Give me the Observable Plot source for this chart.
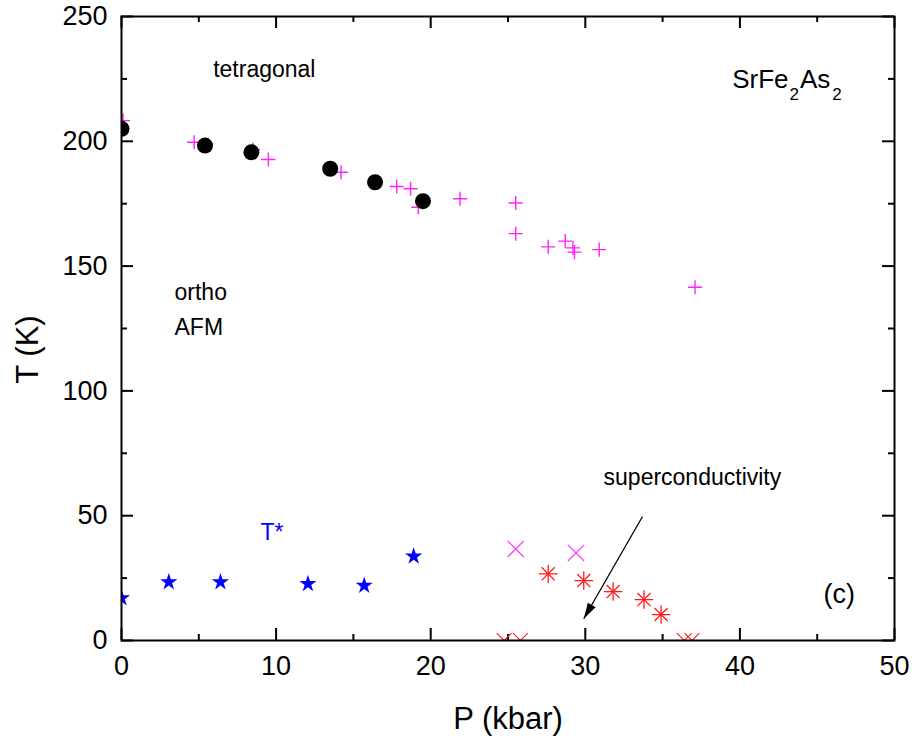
<!DOCTYPE html>
<html>
<head>
<meta charset="utf-8">
<script src="https://cdn.jsdelivr.net/npm/d3@7"></script>
<script src="https://cdn.jsdelivr.net/npm/@observablehq/plot@0.6"></script>
<style>
  html, body { margin: 0; padding: 0; background: white; }
</style>
</head>
<body>
<div id="chart"></div>
<script>
// ---- data ----
const circleP = [0, 5.4, 8.4, 13.5, 16.4, 19.5];
const circleT = [205, 198.3, 195.6, 189, 183.6, 176];

const plusP = [0.1, 4.7, 8.5, 9.5, 14.2, 17.8, 18.7, 19.2, 21.9, 25.5, 25.5, 27.6, 28.7, 29.2, 29.3, 30.9, 37.1];
const plusT = [208.3, 199.6, 196.7, 192.7, 187.6, 181.9, 181.0, 173.6, 177.0, 175.3, 163.0, 157.7, 160.0, 157.3, 155.6, 156.6, 141.5];

const starP = [0, 3.06, 6.4, 12.06, 15.7, 18.9];
const starT = [17, 23.4, 23.4, 22.7, 22.0, 33.7];

const timesP = [25.5, 29.4];
const timesT = [36.7, 35.1];

const asteriskP = [27.6, 29.9, 31.8, 33.8, 34.9];
const asteriskT = [26.7, 24.0, 19.6, 16.4, 10.4];

const zeroP = [24.75, 25.8, 36.4, 36.9];
const zeroT = [0, 0, 0, 0];

const arrowFrom = {P: 33.7, T: 49.7};
const arrowTo = {P: 29.9, T: 8.7};

const xMajor = [0, 10, 20, 30, 40, 50];
const xMinor = [5, 15, 25, 35, 45];
const yMajor = [0, 50, 100, 150, 200, 250];
const yMinor = [25, 75, 125, 175, 225];

const xLabel = "P (kbar)";
const yLabel = "T (K)";

// ---- helpers ----
const zip = (xs, ys) => xs.map((x, i) => ({P: x, T: ys[i]}));

const W = 915, H = 742;
const mL = 121, mR = 21, mT = 16, mB = 102;
const xDomain = [0, 50], yDomain = [0, 250];
const kx = (xDomain[1] - xDomain[0]) / (W - mL - mR); // data units per px
const ky = (yDomain[1] - yDomain[0]) / (H - mT - mB);
const major = 12, minor = 6;

// arrowhead orientation from scales
const xs = Plot.scale({x: {domain: xDomain, range: [mL, W - mR]}});
const ys = Plot.scale({y: {domain: yDomain, range: [H - mB, mT]}});
const adx = xs.apply(arrowTo.P) - xs.apply(arrowFrom.P);
const ady = ys.apply(arrowTo.T) - ys.apply(arrowFrom.T);
const arrowAngle = Math.atan2(adx, -ady) * 180 / Math.PI;
const headSymbol = {
  draw(ctx) {
    ctx.moveTo(0, 0);
    ctx.lineTo(-4.5, 16);
    ctx.lineTo(4.5, 16);
    ctx.closePath();
  }
};

const font = "'Liberation Sans', Arial, Helvetica, sans-serif";

const chart = Plot.plot({
  width: W,
  height: H,
  marginLeft: mL,
  marginRight: mR,
  marginTop: mT,
  marginBottom: mB,
  x: {domain: xDomain, ticks: xMajor, tickSize: 0, tickPadding: 15, label: null},
  y: {domain: yDomain, ticks: yMajor, tickSize: 0, tickPadding: 14, label: null},
  style: {fontFamily: font, fontSize: "27px", color: "black", background: "white", overflow: "visible"},
  marks: [
    // ticks (inward, all four sides)
    Plot.ruleX(xMajor, {x: d => d, y1: yDomain[0], y2: yDomain[0] + major * ky, stroke: "black", strokeWidth: 2}),
    Plot.ruleX(xMinor, {x: d => d, y1: yDomain[0], y2: yDomain[0] + minor * ky, stroke: "black", strokeWidth: 2}),
    Plot.ruleX(xMajor, {x: d => d, y1: yDomain[1] - major * ky, y2: yDomain[1], stroke: "black", strokeWidth: 2}),
    Plot.ruleX(xMinor, {x: d => d, y1: yDomain[1] - minor * ky, y2: yDomain[1], stroke: "black", strokeWidth: 2}),
    Plot.ruleY(yMajor, {y: d => d, x1: xDomain[0], x2: xDomain[0] + major * kx, stroke: "black", strokeWidth: 2}),
    Plot.ruleY(yMinor, {y: d => d, x1: xDomain[0], x2: xDomain[0] + minor * kx, stroke: "black", strokeWidth: 2}),
    Plot.ruleY(yMajor, {y: d => d, x1: xDomain[1] - major * kx, x2: xDomain[1], stroke: "black", strokeWidth: 2}),
    Plot.ruleY(yMinor, {y: d => d, x1: xDomain[1] - minor * kx, x2: xDomain[1], stroke: "black", strokeWidth: 2}),

    // data
    Plot.dot(zip(plusP, plusT), {x: "P", y: "T", symbol: "plus", r: 4.6, stroke: "#ff22ff", strokeWidth: 1.4, fill: "none", clip: true}),
    Plot.dot(zip(circleP, circleT), {x: "P", y: "T", symbol: "circle", r: 8, fill: "black", stroke: "none", clip: true}),
    Plot.dot(zip(starP, starT), {x: "P", y: "T", symbol: "star", r: 5.4, fill: "#0000ff", stroke: "none", clip: true}),
    Plot.dot(zip(timesP, timesT), {x: "P", y: "T", symbol: "times", r: 7.4, stroke: "#ff33ff", strokeWidth: 1.2, fill: "none", clip: true}),
    Plot.dot(zip(asteriskP, asteriskT), {x: "P", y: "T", symbol: "plus", r: 6, stroke: "#ff1a1a", strokeWidth: 1.3, fill: "none", clip: true}),
    Plot.dot(zip(asteriskP, asteriskT), {x: "P", y: "T", symbol: "times", r: 6, stroke: "#ff1a1a", strokeWidth: 1.3, fill: "none", clip: true}),
    Plot.dot(zip(zeroP, zeroT), {x: "P", y: "T", symbol: "times", r: 6.8, stroke: "#ff1a1a", strokeWidth: 1.1, fill: "none", clip: true}),

    // arrow
    Plot.link([{x1: arrowFrom.P, y1: arrowFrom.T, x2: arrowTo.P, y2: arrowTo.T}], {x1: "x1", y1: "y1", x2: "x2", y2: "y2", stroke: "black", strokeWidth: 1.3}),
    Plot.dot([arrowTo], {x: "P", y: "T", symbol: headSymbol, rotate: arrowAngle, fill: "black", stroke: "none"}),

    // annotations
    Plot.text(["tetragonal"], {x: 5.93, y: 225.6, text: d => d, textAnchor: "start", lineAnchor: "bottom", fontSize: 23, fill: "black"}),
    Plot.text(["ortho"], {x: 3.43, y: 136.5, text: d => d, textAnchor: "start", lineAnchor: "bottom", fontSize: 23, fill: "black"}),
    Plot.text(["AFM"], {x: 3.43, y: 122.2, text: d => d, textAnchor: "start", lineAnchor: "bottom", fontSize: 23, fill: "black"}),
    Plot.text(["T*"], {x: 8.99, y: 40.1, text: d => d, textAnchor: "start", lineAnchor: "bottom", fontSize: 23, fill: "#0000ff"}),
    Plot.text(["superconductivity"], {x: 31.18, y: 62.5, text: d => d, textAnchor: "start", lineAnchor: "bottom", fontSize: 23, fill: "black"}),
    Plot.text(["(c)"], {x: 45.4, y: 15.2, text: d => d, textAnchor: "start", lineAnchor: "bottom", fontSize: 27, fill: "black"}),
    Plot.text(["SrFe2As2"], {x: 39.5, y: 221.3, text: d => d, textAnchor: "start", lineAnchor: "bottom", fontSize: 26, fill: "black"}),

    // axis titles
    Plot.text([xLabel], {frameAnchor: "bottom", text: d => d, lineAnchor: "bottom", dy: 88, fontSize: 31, fill: "black"}),
    Plot.text([yLabel], {x: xDomain[0] - 84 * kx, y: (H - mB - 349) * ky, text: d => d, lineAnchor: "bottom", textAnchor: "middle", rotate: -90, fontSize: 31, fill: "black", clip: false})
    ,
    Plot.frame({stroke: "black", strokeWidth: 2})
  ]
});

// subscripts in the compound formula
chart.querySelectorAll("text").forEach(t => {
  if (t.textContent === "SrFe2As2") {
    const target = t.querySelector("tspan") || t;
    target.innerHTML = 'SrFe<tspan dx="1" dy="12" font-size="17">2</tspan><tspan dx="1" dy="-12">As</tspan><tspan dx="2" dy="12" font-size="17">2</tspan>';
  }
});

document.getElementById("chart").appendChild(chart);
</script>
</body>
</html>
